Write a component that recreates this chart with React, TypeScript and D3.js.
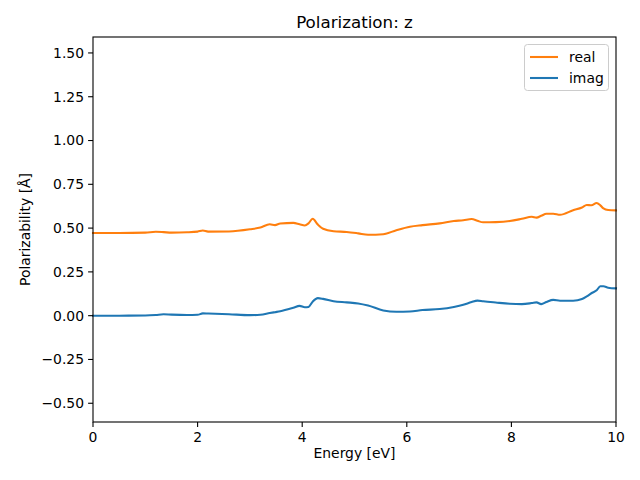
import React from "react";
import * as d3 from "d3";

const energy = [0, 0.5, 1, 1.2, 1.35, 1.5, 1.8, 2.0, 2.1, 2.2, 2.6, 3.0, 3.2, 3.38, 3.48, 3.58, 3.83, 3.95, 4.05, 4.12, 4.2, 4.3, 4.4, 4.6, 4.85, 5.07, 5.26, 5.55, 5.8, 6.06, 6.3, 6.63, 6.9, 7.08, 7.24, 7.35, 7.46, 7.7, 7.97, 8.2, 8.39, 8.48, 8.57, 8.67, 8.8, 8.93, 9.18, 9.35, 9.44, 9.53, 9.63, 9.7, 9.76, 9.85, 10];
const realVals = [0.472, 0.472, 0.474, 0.479, 0.477, 0.474, 0.476, 0.48, 0.486, 0.48, 0.481, 0.493, 0.503, 0.522, 0.517, 0.526, 0.53, 0.522, 0.515, 0.527, 0.553, 0.52, 0.496, 0.482, 0.478, 0.47, 0.462, 0.465, 0.488, 0.508, 0.517, 0.527, 0.54, 0.545, 0.552, 0.542, 0.533, 0.534, 0.54, 0.553, 0.565, 0.56, 0.57, 0.582, 0.582, 0.576, 0.602, 0.618, 0.632, 0.63, 0.643, 0.63, 0.612, 0.603, 0.601];
const imagVals = [0, 0, 0.001, 0.004, 0.008, 0.006, 0.004, 0.005, 0.013, 0.012, 0.008, 0.003, 0.005, 0.015, 0.02, 0.025, 0.045, 0.056, 0.048, 0.05, 0.08, 0.1, 0.096, 0.082, 0.076, 0.07, 0.058, 0.03, 0.022, 0.024, 0.032, 0.038, 0.05, 0.062, 0.078, 0.086, 0.082, 0.075, 0.068, 0.066, 0.072, 0.076, 0.066, 0.078, 0.09, 0.085, 0.085, 0.095, 0.11, 0.128, 0.145, 0.168, 0.168, 0.16, 0.156];
const xTicks = [0, 2, 4, 6, 8, 10];
const yTicks = [-0.5, -0.25, 0, 0.25, 0.5, 0.75, 1.0, 1.25, 1.5];
const seriesNames = ["real", "imag"];
const seriesColors = ["#ff7f0e", "#1f77b4"];

const L = 93, R = 616, T = 37, B = 422;
const font = "DejaVu Sans, sans-serif";

export default function App() {
  const x = d3.scaleLinear().domain([0, 10]).range([L, R]);
  const y = d3.scaleLinear().domain([-0.607, 1.591]).range([B, T]);
  const line = d3
    .line<[number, number]>()
    .x((d) => x(d[0]))
    .y((d) => y(d[1]))
    .curve(d3.curveMonotoneX);
  const series = [realVals, imagVals].map((vals) =>
    energy.map((e, i) => [e, vals[i]] as [number, number])
  );
  return (
    <svg width={640} height={480} style={{ position: "absolute", left: 0, top: 0, background: "#fff" }} fontFamily={font}>
      <rect x={0} y={0} width={640} height={480} fill="#fff" />
      {series.map((s, i) => (
        <path key={i} d={line(s) || ""} fill="none" stroke={seriesColors[i]} strokeWidth={2.08} strokeLinejoin="round" strokeLinecap="square" />
      ))}
      <rect x={L} y={T} width={R - L} height={B - T} fill="none" stroke="#000" strokeWidth={1.1} />
      {xTicks.map((t) => (
        <g key={t}>
          <line x1={x(t)} x2={x(t)} y1={B} y2={B + 4.9} stroke="#000" strokeWidth={1.1} />
          <text x={x(t)} y={B + 20} fontSize={13.9} textAnchor="middle" fill="#000">{t}</text>
        </g>
      ))}
      {yTicks.map((t) => (
        <g key={t}>
          <line x1={L - 4.9} x2={L} y1={y(t)} y2={y(t)} stroke="#000" strokeWidth={1.1} />
          <text x={L - 9} y={y(t)} dy="0.35em" fontSize={13.9} textAnchor="end" fill="#000">
            {t < 0 ? "\u2212" + Math.abs(t).toFixed(2) : t.toFixed(2)}
          </text>
        </g>
      ))}
      <text x={(L + R) / 2} y={458} fontSize={13.9} textAnchor="middle" fill="#000">Energy [eV]</text>
      <text transform={`translate(30,${(T + B) / 2}) rotate(-90)`} fontSize={13.9} textAnchor="middle" fill="#000">Polarizability [Å]</text>
      <text x={(L + R) / 2} y={28} fontSize={16.7} textAnchor="middle" fill="#000">Polarization: z</text>
      <rect x={524.5} y={44.5} width={84} height={46} rx={3} fill="#fff" fillOpacity={0.8} stroke="#ccc" strokeWidth={1} />
      {seriesNames.map((n, i) => (
        <g key={n}>
          <line x1={530} x2={558} y1={57 + i * 21} y2={57 + i * 21} stroke={seriesColors[i]} strokeWidth={2.08} />
          <text x={569} y={57 + i * 21} dy="0.35em" fontSize={13.9} fill="#000">{n}</text>
        </g>
      ))}
    </svg>
  );
}
